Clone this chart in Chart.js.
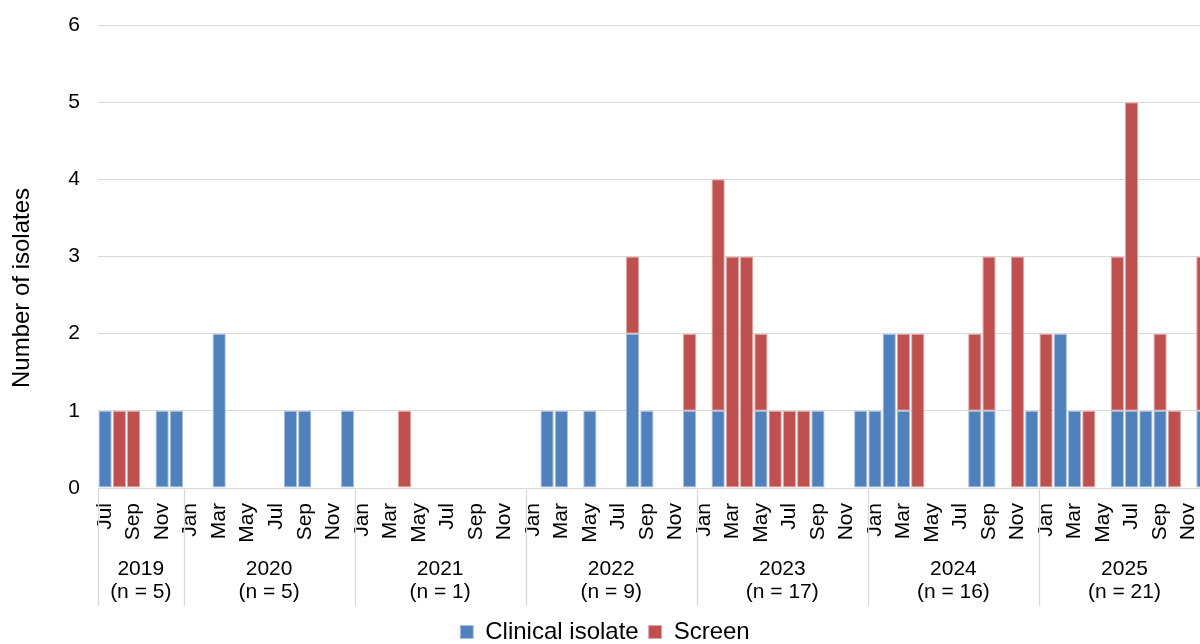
<!DOCTYPE html>
<html>
<head>
<meta charset="utf-8">
<title>Isolates by month</title>
<script src="https://cdn.jsdelivr.net/npm/chart.js@4.4.1/dist/chart.umd.min.js"></script>
<style>
  html, body { margin: 0; padding: 0; background: #ffffff; overflow: hidden; }
  #wrap { width: 1210px; height: 654px; }
</style>
</head>
<body>
<div id="wrap"><canvas id="chart" width="1210" height="654"></canvas></div>
<script>
// Reporting years and the month the series starts in (July 2019)
const years = [2019, 2020, 2021, 2022, 2023, 2024, 2025];
const firstMonthIndex = 6; // July

// Month tick labels: every second month is labelled
const monthTickLabels = ['Jan', '', 'Mar', '', 'May', '', 'Jul', '', 'Sep', '', 'Nov', ''];

// Monthly counts, July 2019 to December 2025
const clinicalIsolate = [
  1, 0, 0, 0, 1, 1,                    // 2019 Jul-Dec
  0, 0, 2, 0, 0, 0, 0, 1, 1, 0, 0, 1,  // 2020
  0, 0, 0, 0, 0, 0, 0, 0, 0, 0, 0, 0,  // 2021
  0, 1, 1, 0, 1, 0, 0, 2, 1, 0, 0, 1,  // 2022
  0, 1, 0, 0, 1, 0, 0, 0, 1, 0, 0, 1,  // 2023
  1, 2, 1, 0, 0, 0, 0, 1, 1, 0, 0, 1,  // 2024
  0, 2, 1, 0, 0, 1, 1, 1, 1, 0, 0, 1   // 2025
];
const screen = [
  0, 1, 1, 0, 0, 0,                    // 2019 Jul-Dec
  0, 0, 0, 0, 0, 0, 0, 0, 0, 0, 0, 0,  // 2020
  0, 0, 0, 1, 0, 0, 0, 0, 0, 0, 0, 0,  // 2021
  0, 0, 0, 0, 0, 0, 0, 1, 0, 0, 0, 1,  // 2022
  0, 3, 3, 3, 1, 1, 1, 1, 0, 0, 0, 0,  // 2023
  0, 0, 1, 2, 0, 0, 0, 1, 2, 0, 3, 0,  // 2024
  2, 0, 0, 1, 0, 2, 4, 0, 1, 1, 0, 2   // 2025
];

// Build the month categories (year, month) from the start month onwards
const categories = [];
years.forEach((y, yi) => {
  for (let m = (yi === 0 ? firstMonthIndex : 0); m < 12; m++) {
    categories.push({ year: y, month: m });
  }
});
const categoryKeys = categories.map(c => c.year + '-' + String(c.month + 1).padStart(2, '0'));

const FONT = "'Liberation Sans', Arial, Helvetica, sans-serif";
Chart.defaults.font.family = FONT;
Chart.defaults.color = '#000000';

// Year group labels with annual totals, plus separators under the month axis
const yearGroupPlugin = {
  id: 'yearGroups',
  afterDraw(chart) {
    const xs = chart.scales.x;
    const ctx = chart.ctx;
    const half = (xs.getPixelForValue(1) - xs.getPixelForValue(0)) / 2;
    const top = chart.chartArea.bottom;
    const sepBottom = 606;
    ctx.save();
    ctx.strokeStyle = '#d9d9d9';
    ctx.lineWidth = 1.3;
    ctx.fillStyle = '#000000';
    ctx.font = '21px ' + FONT;
    ctx.textAlign = 'center';
    ctx.textBaseline = 'middle';
    years.forEach(y => {
      const idx = [];
      categories.forEach((c, i) => { if (c.year === y) idx.push(i); });
      const left = xs.getPixelForValue(idx[0]) - half;
      const right = xs.getPixelForValue(idx[idx.length - 1]) + half;
      const total = idx.reduce((s, i) => s + clinicalIsolate[i] + screen[i], 0);
      ctx.beginPath();
      ctx.moveTo(Math.round(left) + 0.5, top);
      ctx.lineTo(Math.round(left) + 0.5, sepBottom);
      ctx.stroke();
      const cx = (left + right) / 2;
      ctx.fillText(String(y), cx, 569);
      ctx.fillText('(n = ' + total + ')', cx, 592);
    });
    ctx.restore();
  }
};

// Vertical value-axis title, centred lower than the plot centre
const axisTitlePlugin = {
  id: 'axisTitle',
  afterDraw(chart) {
    const ctx = chart.ctx;
    ctx.save();
    ctx.translate(22, 288);
    ctx.rotate(-Math.PI / 2);
    ctx.fillStyle = '#000000';
    ctx.font = '24px ' + FONT;
    ctx.textAlign = 'center';
    ctx.textBaseline = 'middle';
    ctx.fillText('Number of isolates', 0, 0);
    ctx.restore();
  }
};

new Chart(document.getElementById('chart'), {
  type: 'bar',
  data: {
    labels: categoryKeys,
    datasets: [
      {
        label: 'Clinical isolate',
        data: clinicalIsolate,
        backgroundColor: '#4f81bd',
        borderColor: '#a9c0de',
        borderWidth: 1,
        borderSkipped: false,
        barPercentage: 1,
        categoryPercentage: 0.93
      },
      {
        label: 'Screen',
        data: screen,
        backgroundColor: '#c0504d',
        borderColor: '#dfa9a7',
        borderWidth: 1,
        borderSkipped: false,
        barPercentage: 1,
        categoryPercentage: 0.93
      }
    ]
  },
  options: {
    responsive: false,
    devicePixelRatio: 1,
    animation: false,
    layout: { padding: { top: 25, left: 0, right: 0, bottom: 0 } },
    plugins: {
      legend: {
        position: 'bottom',
        labels: {
          boxWidth: 13,
          boxHeight: 13,
          padding: 10,
          color: '#000000',
          font: { size: 24, family: FONT }
        }
      },
      tooltip: { enabled: false }
    },
    scales: {
      x: {
        stacked: true,
        grid: { display: false, drawTicks: false },
        border: { display: true, color: '#d9d9d9', width: 1 },
        ticks: {
          autoSkip: false,
          maxRotation: 90,
          minRotation: 90,
          padding: 15,
          color: '#000000',
          font: { size: 21, family: FONT },
          callback: (value, index) => monthTickLabels[categories[index].month]
        },
        afterFit(scale) {
          scale.height = 122;
          scale.paddingLeft = 0;
          scale.paddingRight = 0;
        }
      },
      y: {
        stacked: true,
        min: 0,
        max: 6,
        grid: { color: '#d9d9d9', lineWidth: 1, drawTicks: false },
        border: { display: false },
        ticks: {
          stepSize: 1,
          padding: 18,
          color: '#000000',
          font: { size: 21, family: FONT }
        },
        afterFit(scale) {
          scale.width = 98;
          scale.paddingTop = 0;
          scale.paddingBottom = 0;
        }
      }
    }
  },
  plugins: [yearGroupPlugin, axisTitlePlugin]
});
</script>
</body>
</html>
